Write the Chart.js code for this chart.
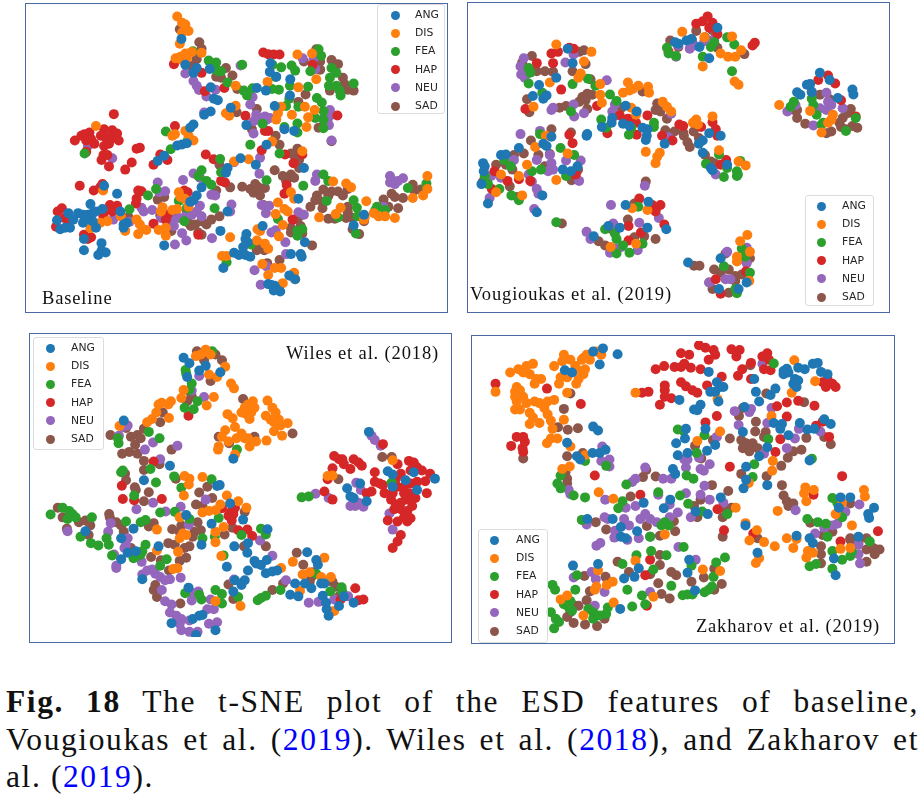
<!DOCTYPE html>
<html lang="en">
<head>
<meta charset="UTF-8">
<title>t-SNE plot of ESD features</title>
<script src="https://cdn.jsdelivr.net/npm/chart.js"></script>
<style>
    html, body { margin: 0; padding: 0; background: #fff; }
    body { width: 921px; height: 801px; position: relative; overflow: hidden; }
    .panel { position: absolute; box-sizing: border-box; border: 1px solid #4a6aa5; background: #fff; }
    .panel canvas { position: absolute; left: 0; top: 0; filter: blur(0.4px); }
    .legend { position: absolute; box-sizing: border-box; background: rgba(255,255,255,0.8); border: 1px solid #dcdcdc; border-radius: 3px; font: 10.8px "DejaVu Sans", sans-serif; color: #262626; }
    .legend div { position: absolute; left: 0; right: 0; height: 18px; line-height: 18px; }
    .legend i { position: absolute; top: 4.5px; width: 9px; height: 9px; border-radius: 50%; }
    .legend span { position: absolute; }
    .tag { position: absolute; font: 18.5px "Liberation Serif", serif; letter-spacing: 0.85px; color: #111; white-space: nowrap; }
    .caption { position: absolute; left: 6px; width: 913px; font: 31.5px "Liberation Serif", serif; color: #111; white-space: nowrap; letter-spacing: 1.6px; }
    .caption.full { text-align: justify; text-align-last: justify; white-space: normal; }
    .caption a { color: #0000ff; }
</style>
</head>
<body>
<div class="panel" id="p0" style="left:25px;top:3px;width:423px;height:310px"><canvas id="c0" width="421" height="308"></canvas>
    <div class="legend" id="l0" style="left:351px;top:0;width:68px;height:110px"></div>
    <div class="tag" style="left:16px;top:284px">Baseline</div></div>
<div class="panel" id="p1" style="left:467px;top:2px;width:423px;height:311px"><canvas id="c1" width="421" height="309"></canvas>
    <div class="legend" id="l1" style="left:337px;top:192px;width:69px;height:111px"></div>
    <div class="tag" style="left:2px;top:281px">Vougioukas et al. (2019)</div></div>
<div class="panel" id="p2" style="left:29px;top:333px;width:423px;height:310px"><canvas id="c2" width="421" height="308"></canvas>
    <div class="legend" id="l2" style="left:3px;top:3px;width:71px;height:113px"></div>
    <div class="tag" style="right:12px;top:9px">Wiles et al. (2018)</div></div>
<div class="panel" id="p3" style="left:471px;top:335px;width:424px;height:309px"><canvas id="c3" width="422" height="307"></canvas>
    <div class="legend" id="l3" style="left:6px;top:193px;width:70px;height:114px"></div>
    <div class="tag" style="right:14px;top:280px">Zakharov et al. (2019)</div></div>

<div class="caption full" style="top:684px"><b>Fig. 18</b> The t-SNE plot of the ESD features of baseline,</div>
<div class="caption full" style="top:722px">Vougioukas et al. (<a>2019</a>). Wiles et al. (<a>2018</a>), and Zakharov et</div>
<div class="caption" style="top:759px">al. (<a>2019</a>).</div>

<script>
const categories = ['ANG', 'DIS', 'FEA', 'HAP', 'NEU', 'SAD'];
const colors = ['#1f77b4', '#ff7f0e', '#2ca02c', '#d62728', '#9467bd', '#8c564b'];

// t-SNE embeddings have no real units, values are read off each panel (y grows downward)
const baselineANG = [[478,105],[490,185],[515,210],[525,195],[565,198],[568,255],[578,290],[590,295],[568,330],[548,340],[515,370],[505,380],[465,435],[480,432],[495,428],[752,180],[750,207],[770,222],[813,230],[812,280],[738,265],[710,257],[765,313],[678,372],[630,318],[795,385],[825,390],[740,433],[660,475],[707,495],[620,505],[615,520],[855,505],[240,560],[280,585],[198,617],[130,645],[160,645],[175,650],[190,650],[205,645],[215,640],[235,632],[195,665],[175,675],[205,670],[95,667],[105,695],[120,690],[135,690],[145,665],[215,690],[178,725],[232,738],[178,760],[232,762],[245,767],[222,775],[290,640],[300,690],[310,675],[425,745],[540,565],[525,590],[515,605],[505,610],[620,640],[598,700],[728,685],[678,710],[675,725],[682,735],[668,750],[640,768],[655,775],[675,775],[690,780],[607,815],[815,772],[845,772],[848,780],[858,735],[1040,650],[1008,683],[745,865],[755,868],[765,870],[770,880],[782,888],[762,885],[810,838],[828,850],[405,483],[425,467],[838,600],[300,680]];
const baselineDIS = [[465,35],[480,55],[490,60],[500,80],[480,85],[473,120],[460,165],[475,160],[490,150],[510,145],[480,170],[495,165],[540,148],[645,250],[743,238],[838,255],[835,153],[880,150],[893,230],[645,312],[615,335],[625,343],[785,315],[775,335],[770,355],[818,340],[858,315],[888,325],[868,348],[863,378],[215,375],[458,400],[450,405],[490,390],[500,405],[515,420],[757,423],[685,478],[640,485],[850,453],[237,575],[470,580],[475,595],[488,600],[500,625],[465,632],[450,635],[420,627],[415,640],[292,655],[228,675],[250,670],[198,692],[305,700],[340,665],[350,680],[360,695],[345,710],[370,697],[408,697],[430,715],[430,690],[628,720],[712,695],[720,700],[710,730],[735,740],[745,755],[778,717],[790,682],[775,612],[815,580],[825,600],[795,632],[768,648],[805,640],[945,547],[985,553],[1000,565],[968,628],[953,648],[902,658],[1047,608],[1042,658],[1070,645],[1085,655],[1105,655],[1135,660],[1190,598],[1222,590],[1235,530],[1235,570],[603,778],[617,778],[727,803],[745,837],[765,815],[785,815],[790,862],[825,830],[815,840],[828,850],[1040,665]];
const baselineFEA = [[513,143],[562,172],[585,178],[583,195],[590,205],[600,205],[665,185],[620,240],[670,265],[680,280],[697,258],[757,260],[778,262],[758,185],[785,193],[768,223],[817,187],[828,203],[812,250],[868,253],[810,290],[838,315],[800,313],[895,288],[910,302],[875,205],[900,137],[908,157],[940,195],[955,210],[935,225],[932,250],[955,250],[965,265],[968,280],[1008,243],[915,328],[890,350],[915,355],[915,382],[835,367],[795,378],[835,395],[728,368],[430,392],[498,418],[445,447],[180,460],[690,433],[780,460],[597,477],[600,518],[540,512],[530,530],[555,545],[570,557],[740,543],[853,560],[915,525],[930,545],[925,607],[1008,605],[1018,628],[1020,655],[960,658],[1080,625],[1075,635],[1105,635],[1175,567],[1232,553],[1232,565],[375,590],[400,570],[470,607],[495,628],[487,670],[318,633],[580,630],[775,663],[835,700],[850,695],[835,715],[1015,708],[692,742],[617,797]];
const baselineHAP = [[270,338],[150,420],[170,405],[180,400],[195,395],[210,430],[185,420],[200,415],[240,385],[265,388],[280,398],[230,405],[245,410],[260,415],[285,420],[240,437],[255,430],[185,455],[238,465],[250,465],[232,480],[255,500],[305,510],[325,488],[340,445],[350,442],[413,463],[392,495],[435,480],[458,375],[455,183],[540,210],[550,267],[610,257],[730,147],[745,152],[762,153],[780,153],[882,185],[958,342],[675,343],[735,390],[745,390],[553,463],[577,478],[600,545],[612,550],[725,450],[797,463],[850,463],[823,490],[802,558],[795,585],[165,560],[235,555],[228,565],[208,575],[345,575],[355,577],[340,600],[338,615],[487,575],[497,580],[487,593],[258,620],[280,622],[265,640],[238,642],[238,655],[110,630],[97,640],[118,660],[130,670],[92,687],[178,712],[200,720],[190,725],[435,650],[430,665],[392,678],[530,712],[820,665]];
const baselineNEU = [[660,187],[490,212],[515,235],[525,250],[532,263],[555,283],[583,262],[548,333],[697,285],[690,308],[708,340],[700,360],[720,358],[735,345],[750,350],[740,355],[700,398],[935,325],[940,340],[915,352],[930,350],[932,372],[851,165],[885,165],[890,198],[940,420],[190,437],[265,475],[720,473],[718,523],[640,487],[515,522],[535,535],[483,542],[405,550],[410,580],[428,577],[890,545],[895,525],[1120,530],[1130,545],[1135,555],[1160,537],[1145,545],[1120,550],[1100,625],[570,588],[582,590],[355,628],[362,640],[388,635],[415,660],[268,665],[318,672],[535,622],[525,640],[510,650],[490,655],[470,660],[450,665],[440,675],[455,685],[540,655],[480,707],[493,730],[458,742],[572,723],[632,618],[628,640],[725,620],[748,622],[738,645],[838,642],[855,650],[768,698],[755,705],[798,735],[800,772],[740,810],[703,822],[722,867]];
const baselineSAD = [[473,75],[533,115],[540,135],[525,168],[508,188],[615,195],[635,218],[600,225],[585,222],[650,260],[940,170],[960,183],[893,137],[855,175],[905,175],[905,200],[975,225],[980,245],[990,262],[1008,265],[935,265],[860,277],[838,300],[710,322],[648,332],[690,375],[695,385],[900,380],[940,422],[768,405],[780,433],[835,445],[815,460],[825,465],[840,480],[840,505],[595,495],[765,512],[790,530],[815,525],[825,535],[800,545],[628,565],[665,563],[690,570],[705,555],[715,565],[735,567],[700,582],[720,590],[585,575],[915,572],[940,578],[960,578],[990,570],[930,592],[895,590],[890,605],[875,625],[912,610],[912,630],[975,590],[405,603],[425,595],[413,652],[460,655],[495,640],[500,675],[520,680],[540,670],[555,680],[570,665],[595,655],[507,685],[447,700],[530,705],[540,712],[315,657],[730,620],[835,665],[815,690],[815,705],[845,685],[850,708],[850,650],[930,662],[950,662],[985,660],[990,625],[1005,660],[990,642],[1005,695],[1025,710],[1040,670],[1100,603],[1125,585],[1135,595],[1115,625],[1145,630],[1160,598],[1190,557],[1195,575],[1215,572],[880,745],[715,738],[710,760],[733,760],[742,800],[780,790]];

const vougANG = [[665,110],[680,105],[760,70],[735,165],[705,130],[640,120],[630,115],[1075,210],[1035,247],[1045,245],[1105,232],[1005,270],[1015,278],[1175,262],[1178,277],[1130,288],[1050,270],[300,135],[315,180],[265,225],[212,248],[193,282],[225,290],[235,280],[360,400],[358,405],[478,312],[512,330],[437,350],[435,365],[470,368],[405,378],[490,375],[530,380],[545,385],[543,405],[540,418],[598,430],[770,405],[735,397],[715,420],[703,430],[715,458],[250,408],[225,430],[235,437],[150,443],[95,465],[110,463],[40,490],[45,500],[42,515],[35,555],[55,615],[222,590],[205,642],[285,510],[310,515],[330,500],[548,610],[380,717],[425,685],[460,690],[545,690],[603,695],[670,798],[770,785],[765,880],[825,880],[850,860],[790,495],[740,505],[745,512],[478,620]];
const vougDIS = [[652,83],[715,190],[720,100],[805,97],[770,150],[793,160],[815,160],[833,140],[813,237],[825,247],[265,122],[373,145],[350,175],[340,212],[333,225],[245,240],[195,315],[485,240],[470,272],[490,265],[500,260],[517,250],[547,253],[550,272],[400,245],[400,278],[405,303],[495,318],[592,300],[605,315],[618,330],[510,340],[695,355],[685,365],[700,370],[745,345],[540,455],[583,458],[575,470],[570,490],[233,405],[200,440],[175,495],[150,530],[95,525],[80,580],[265,542],[300,460],[160,590],[498,630],[545,635],[510,740],[765,450],[825,485],[847,497],[950,310],[1045,328],[1080,395],[1115,340],[1110,355],[1100,365],[830,732],[852,713],[820,780],[820,795],[858,855],[860,765],[432,750]];
const vougFEA = [[605,132],[610,150],[633,158],[715,160],[740,130],[750,115],[790,100],[812,122],[805,205],[180,195],[180,243],[185,210],[315,245],[385,250],[362,228],[430,277],[222,272],[450,297],[310,330],[403,355],[418,380],[488,402],[495,380],[565,365],[565,378],[278,443],[215,400],[320,465],[218,510],[295,530],[190,515],[125,500],[105,480],[45,530],[55,555],[90,570],[127,590],[150,605],[725,492],[765,463],[780,533],[790,505],[820,515],[820,530],[823,525],[830,483],[265,673],[517,625],[415,695],[445,708],[450,725],[470,745],[490,768],[450,770],[530,740],[995,300],[985,315],[1050,290],[1055,310],[1065,340],[1085,365],[1080,370],[1155,390],[1185,350],[780,810],[835,755],[845,780],[820,893],[815,880],[860,830]];
const vougHAP = [[695,58],[715,50],[730,35],[745,55],[755,70],[760,90],[735,70],[610,145],[875,117],[868,125],[250,150],[270,145],[305,132],[318,135],[205,180],[255,180],[280,262],[390,313],[170,322],[460,342],[485,352],[510,365],[545,342],[422,397],[512,402],[643,370],[655,375],[622,420],[590,405],[710,378],[745,363],[755,385],[760,405],[315,428],[305,402],[40,547],[67,570],[75,515],[115,545],[150,540],[185,545],[325,525],[520,600],[560,620],[572,630],[585,620],[570,640],[487,685],[525,705],[597,680],[487,730],[770,495],[787,480],[755,850],[770,895],[848,825],[1070,232],[1100,218],[1122,243],[1140,295],[1185,345]];
const vougNEU = [[165,165],[155,190],[157,215],[168,225],[250,325],[255,318],[293,178],[318,153],[420,233],[320,345],[350,335],[318,308],[445,308],[437,330],[618,337],[155,400],[215,390],[125,490],[135,480],[180,525],[205,480],[245,465],[250,490],[255,510],[240,515],[295,482],[340,482],[335,545],[65,530],[95,535],[190,548],[205,570],[210,585],[60,598],[197,632],[433,620],[537,560],[633,160],[640,125],[675,135],[690,125],[720,112],[750,105],[358,703],[370,725],[430,768],[445,755],[465,750],[515,760],[580,660],[520,675],[440,677],[610,410],[755,525],[1050,268],[1095,272],[1100,300],[1110,310],[1095,325],[1075,320],[975,330],[1000,310],[1055,373],[1145,320],[790,765],[825,790],[850,752],[850,800],[785,850],[800,850],[735,860]];
const vougSAD = [[190,158],[160,178],[355,183],[175,205],[190,205],[205,205],[230,205],[255,207],[315,205],[335,145],[350,140],[370,230],[175,292],[182,332],[375,278],[360,275],[345,285],[335,300],[355,295],[360,322],[275,318],[295,313],[530,268],[465,318],[575,305],[570,325],[585,330],[605,352],[600,388],[628,392],[655,395],[657,405],[668,425],[675,440],[687,392],[703,412],[722,465],[740,485],[750,490],[250,385],[310,395],[187,420],[210,465],[135,465],[165,460],[245,462],[110,495],[80,495],[130,510],[230,500],[332,510],[312,543],[122,562],[145,595],[540,547],[282,677],[485,665],[505,615],[435,695],[395,732],[415,745],[430,752],[505,720],[535,717],[570,725],[615,110],[640,130],[695,80],[722,100],[745,78],[682,108],[760,132],[843,152],[995,325],[1005,325],[1005,350],[1030,368],[1075,278],[1105,292],[1060,318],[1145,350],[1135,365],[1160,335],[1170,322],[1140,378],[1155,385],[1175,375],[1190,380],[1095,397],[1110,392],[688,808],[705,808],[750,820],[770,830],[785,770],[795,820],[860,785],[815,840],[835,835],[815,855],[735,860],[745,880],[795,892]];

const wilesANG = [[472,70],[490,87],[483,130],[520,110],[540,95],[585,115],[288,265],[430,405],[350,450],[575,468],[583,465],[625,383],[318,600],[170,608],[280,630],[395,655],[300,675],[280,695],[325,670],[480,558],[558,585],[655,572],[615,522],[527,650],[628,655],[668,675],[670,645],[730,602],[605,718],[690,700],[695,708],[710,713],[725,738],[670,730],[745,733],[760,730],[728,697],[660,760],[650,775],[630,760],[625,795],[852,673],[880,697],[885,712],[815,770],[845,770],[865,785],[895,770],[905,770],[800,805],[825,810],[900,808],[910,830],[912,850],[918,870],[950,840],[965,810],[995,830],[345,757],[487,783],[520,870],[530,868],[500,880],[570,915],[435,893],[510,930],[1042,300],[1100,422],[975,475],[985,500],[995,505],[1015,460],[1035,515],[1115,470],[1155,450],[1180,425],[1190,480],[1245,445],[1115,432]];
const wilesDIS = [[510,65],[525,60],[540,45],[555,60],[600,98],[550,122],[575,130],[618,150],[627,165],[465,195],[472,170],[565,192],[543,218],[405,210],[395,215],[433,205],[425,215],[388,240],[375,260],[360,270],[427,257],[275,282],[607,245],[623,258],[630,285],[600,295],[590,315],[580,345],[578,355],[610,330],[635,320],[650,305],[660,320],[670,320],[650,240],[660,225],[670,215],[685,205],[665,245],[680,240],[690,225],[675,260],[730,203],[745,225],[755,240],[725,250],[740,262],[750,270],[765,262],[770,280],[792,273],[750,298],[775,312],[727,327],[695,330],[675,345],[630,370],[475,437],[490,445],[488,463],[530,440],[473,497],[605,497],[585,525],[640,515],[665,535],[530,550],[550,545],[570,543],[595,595],[390,603],[460,565],[570,610],[470,615],[460,630],[480,620],[570,642],[455,672],[588,685],[390,668],[453,723],[440,725],[772,722],[808,703],[905,690],[838,742],[860,735],[895,750],[925,750],[830,793],[935,855],[647,840],[930,435],[915,437],[1115,388],[570,825]];
const wilesFEA = [[560,50],[478,108],[480,120],[497,150],[490,170],[475,225],[503,230],[515,205],[270,320],[272,335],[365,300],[398,320],[285,420],[370,415],[443,438],[558,447],[387,457],[465,473],[320,497],[280,425],[100,535],[120,545],[130,555],[115,570],[140,565],[63,556],[190,565],[155,625],[235,630],[187,645],[210,652],[242,650],[252,683],[400,550],[445,548],[490,570],[295,578],[340,580],[355,573],[580,567],[568,625],[530,630],[650,620],[710,600],[725,618],[636,355],[355,650],[345,670],[330,685],[318,692],[340,680],[400,715],[420,695],[595,683],[477,800],[527,820],[570,790],[590,803],[590,832],[520,805],[640,812],[700,822],[710,815],[725,808],[770,790],[923,795],[958,782],[960,795],[835,503],[857,500],[880,740],[1112,457]];
const wilesHAP = [[487,250],[380,392],[282,467],[285,508],[320,512],[405,508],[590,537],[615,550],[630,535],[625,555],[610,560],[620,575],[668,603],[683,623],[640,605],[935,375],[950,385],[960,385],[965,400],[995,385],[1010,395],[1020,405],[985,415],[930,413],[1085,338],[1130,400],[1165,390],[1180,395],[1190,410],[1205,420],[1170,420],[1140,430],[1125,445],[1060,425],[1060,455],[1075,460],[1085,465],[1050,485],[1035,490],[1090,490],[1115,490],[1130,470],[1150,470],[1170,460],[1190,455],[1215,453],[1230,430],[1110,510],[1125,525],[1140,520],[1155,510],[1170,510],[1185,505],[1220,490],[1120,540],[1140,540],[1160,545],[1175,530],[1150,565],[1170,568],[1100,575],[1130,578],[1160,578],[1140,620],[1130,640],[1115,660],[905,485],[930,510],[915,447],[1150,490],[1165,490],[1000,785],[1010,822],[1025,820],[955,820]];
const wilesNEU = [[285,285],[300,280],[273,312],[520,127],[535,192],[497,172],[378,333],[453,343],[353,355],[400,385],[378,520],[327,540],[417,547],[463,532],[540,510],[488,588],[248,583],[240,610],[300,630],[295,650],[290,660],[258,680],[265,715],[265,722],[343,703],[345,742],[360,730],[375,727],[385,740],[400,750],[415,760],[430,757],[463,752],[405,790],[415,825],[435,835],[430,860],[450,870],[465,880],[490,885],[460,895],[465,915],[490,920],[515,920],[550,895],[575,890],[545,850],[565,850],[555,820],[497,798],[517,795],[497,823],[707,637],[745,684],[627,758],[857,830],[887,827],[935,820],[978,810],[787,760],[115,608],[1050,312],[1060,325],[1078,343],[1003,458],[1017,480],[985,530],[1000,530],[1010,520],[1025,532],[878,492],[918,505],[1105,553],[1115,603]];
const wilesSAD = [[513,50],[570,60],[590,78],[535,78],[555,142],[490,175],[497,190],[483,205],[408,240],[400,270],[655,198],[247,310],[295,288],[310,315],[330,310],[350,290],[340,320],[323,340],[305,362],[283,368],[330,368],[350,390],[398,400],[350,418],[435,355],[292,430],[295,450],[322,472],[325,480],[365,487],[350,515],[448,445],[520,488],[545,470],[560,505],[510,525],[530,530],[690,315],[580,315],[612,335],[807,305],[660,548],[85,535],[100,565],[113,600],[150,580],[170,575],[185,590],[180,620],[243,555],[245,565],[265,580],[280,590],[288,610],[365,593],[380,583],[437,602],[465,590],[460,610],[505,610],[515,580],[500,625],[525,605],[425,645],[445,650],[475,660],[490,655],[310,660],[372,688],[402,698],[460,700],[480,690],[427,730],[598,618],[622,597],[658,655],[725,655],[725,608],[820,675],[840,712],[870,735],[865,750],[860,765],[778,770],[745,790],[625,818],[610,773],[930,765],[940,780],[950,810],[385,775],[380,790],[390,812],[462,832],[463,885],[1083,378],[1112,378],[948,447]];

const zakhANG = [[370,50],[400,40],[445,58],[390,90],[283,108],[305,115],[370,283],[385,295],[290,333],[320,375],[330,385],[368,365],[390,365],[408,355],[965,103],[955,110],[970,115],[955,120],[1000,100],[1020,105],[1045,88],[1060,85],[1070,113],[1090,120],[990,135],[985,150],[1000,140],[995,160],[725,113],[750,145],[760,160],[770,160],[745,175],[730,175],[865,135],[870,175],[880,205],[915,185],[930,165],[635,200],[700,215],[680,230],[690,232],[755,205],[835,222],[925,272],[950,275],[945,290],[1005,272],[1028,292],[1050,290],[1080,260],[1100,275],[830,300],[970,310],[655,290],[652,320],[625,335],[715,290],[720,358],[745,340],[905,347],[630,372],[660,365],[880,375],[1035,388],[615,415],[622,430],[840,408],[840,448],[832,475],[905,465],[455,595],[430,570],[352,570],[525,520],[505,608],[455,625],[470,630],[587,537],[607,510],[685,547],[722,555],[762,503],[838,590],[875,675],[665,697],[660,737],[510,723],[465,755],[385,710],[308,715],[497,750],[683,792],[453,850],[1130,503],[1160,503],[1233,535],[1215,555],[1218,567],[995,622],[1035,630],[1045,645],[1185,625],[1110,693],[1115,745],[1125,535]];
const zakhDIS = [[395,60],[380,50],[350,60],[340,70],[360,75],[335,75],[280,60],[275,80],[300,75],[315,95],[320,105],[250,95],[115,115],[140,105],[165,95],[185,88],[155,115],[175,120],[195,135],[210,135],[190,150],[270,130],[290,130],[265,150],[325,135],[318,150],[345,105],[340,120],[70,175],[135,160],[130,175],[145,170],[130,190],[155,190],[135,205],[165,210],[190,205],[205,210],[230,205],[250,200],[220,225],[130,230],[145,230],[175,240],[185,255],[175,275],[205,272],[230,245],[240,265],[280,262],[245,290],[240,320],[260,320],[228,335],[290,178],[300,345],[500,178],[275,415],[298,407],[387,487],[432,507],[345,372],[690,328],[760,298],[752,197],[918,250],[922,390],[920,420],[848,458],[980,178],[988,77],[1052,142],[1022,472],[1018,490],[1025,515],[1048,480],[1202,480],[1205,500],[937,545],[808,535],[838,583],[873,605],[850,637],[895,642],[928,655],[965,630],[995,632],[985,660],[880,692],[870,707],[1025,690],[1030,670],[1045,675],[1130,663],[1160,660],[1165,590],[1115,555],[1135,520],[707,727],[760,732],[590,618],[500,700],[412,775],[430,765],[385,730],[380,780],[375,790],[270,820],[290,808],[433,830],[340,870],[555,812]];
const zakhFEA = [[630,292],[648,297],[712,310],[688,365],[925,87],[1042,383],[865,400],[860,440],[657,435],[678,445],[908,322],[472,463],[345,390],[410,405],[270,435],[260,460],[270,475],[310,497],[345,503],[447,537],[460,515],[637,497],[662,523],[705,547],[570,487],[782,555],[335,573],[580,590],[590,580],[602,590],[545,625],[648,657],[548,670],[503,683],[595,683],[775,690],[748,705],[672,715],[460,710],[555,727],[740,750],[735,780],[610,778],[475,790],[320,745],[315,790],[245,775],[253,790],[300,825],[280,835],[295,845],[305,855],[240,860],[255,880],[265,890],[250,910],[355,850],[370,860],[370,880],[390,870],[415,845],[410,865],[490,842],[520,808],[530,835],[645,807],[660,805],[675,805],[712,798],[725,790],[1105,505],[1120,520],[1135,565],[1028,570],[1060,580],[1085,585],[1090,625],[1105,670],[1135,697],[1160,685],[1165,672],[1035,717],[1055,710],[1105,725],[1220,640]];
const zakhHAP = [[70,150],[228,165],[332,213],[135,315],[155,315],[160,330],[118,343],[153,350],[155,362],[562,105],[588,95],[620,98],[640,98],[650,88],[670,100],[640,55],[665,60],[695,30],[715,38],[700,105],[725,75],[740,45],[745,60],[795,43],[820,45],[810,65],[855,85],[828,105],[815,125],[855,135],[890,65],[905,55],[910,75],[895,105],[915,108],[520,178],[540,175],[590,155],[590,170],[590,190],[610,195],[640,145],[655,158],[675,170],[690,178],[575,215],[720,155],[765,128],[750,250],[715,270],[1075,145],[1090,135],[1105,150],[1115,160],[1085,160],[1050,218],[1000,203],[965,208],[935,220],[965,252],[1055,280],[1075,268],[1095,315],[945,322],[930,362],[790,408],[375,435],[515,495],[752,540],[772,605],[862,615],[1135,437],[1047,495],[1130,640],[1245,608],[545,697],[530,745],[535,840]];
const zakhNEU = [[890,88],[918,225],[805,235],[855,228],[850,238],[817,278],[905,272],[1002,290],[1068,298],[990,320],[965,350],[895,367],[750,315],[398,345],[395,390],[420,385],[420,407],[650,385],[660,385],[655,410],[695,380],[700,415],[710,420],[728,400],[500,445],[490,455],[530,410],[585,445],[610,445],[295,480],[300,493],[407,510],[470,535],[500,530],[605,525],[630,550],[570,495],[655,490],[712,467],[700,495],[728,510],[770,520],[405,565],[415,570],[350,587],[465,570],[480,590],[515,570],[530,555],[545,570],[605,565],[670,565],[565,580],[437,607],[435,628],[475,635],[510,630],[545,625],[380,653],[392,645],[632,657],[685,697],[310,752],[365,735],[378,757],[405,797],[375,840],[545,797],[1080,597],[1105,590],[1120,585],[1052,615],[992,543],[1188,525],[1145,548],[1185,650],[1190,708],[1185,680]];
const zakhSAD = [[300,180],[280,228],[262,285],[292,293],[323,288],[155,382],[338,365],[290,375],[285,425],[290,445],[290,460],[533,418],[523,440],[562,438],[853,92],[902,180],[1018,207],[830,225],[818,250],[870,268],[868,298],[900,300],[895,315],[790,320],[825,325],[840,335],[860,335],[830,350],[850,360],[875,350],[738,325],[683,343],[702,382],[825,430],[903,437],[948,405],[968,380],[985,360],[1010,355],[1025,318],[1080,315],[1100,338],[950,465],[955,497],[965,515],[985,522],[970,530],[735,465],[785,483],[485,500],[700,510],[680,530],[770,535],[795,535],[690,565],[768,565],[378,580],[410,603],[535,592],[575,622],[622,608],[618,577],[768,625],[875,630],[1037,582],[1075,620],[1105,610],[1070,655],[1070,680],[1070,708],[1160,522],[1160,630],[1210,630],[1185,645],[1160,635],[1210,665],[1230,660],[1250,665],[1235,680],[1210,703],[445,703],[575,682],[575,713],[545,742],[610,735],[625,745],[570,770],[480,735],[408,750],[343,747],[360,795],[350,823],[310,838],[325,840],[300,860],[290,875],[310,893],[345,898],[382,903],[405,880],[580,803],[605,817],[742,725],[710,752],[765,772],[742,790],[672,765]];

const panelSeries = [
    [baselineANG, baselineDIS, baselineFEA, baselineHAP, baselineNEU, baselineSAD],
    [vougANG, vougDIS, vougFEA, vougHAP, vougNEU, vougSAD],
    [wilesANG, wilesDIS, wilesFEA, wilesHAP, wilesNEU, wilesSAD],
    [zakhANG, zakhDIS, zakhFEA, zakhHAP, zakhNEU, zakhSAD]
];
// axis limits of each panel: xmin, xmax, ymin, ymax
const panelLimits = [
    [15, 1280, 12, 936],
    [9, 1272, 9, 936],
    [15, 1279, 12, 936],
    [13, 1279, 17, 940]
];
const legendMarkerX = [[13, 37], [11, 36], [12, 37], [11, 37]];

panelSeries.forEach((series, p) => {
    const lim = panelLimits[p];
    new Chart(document.getElementById('c' + p), {
        type: 'scatter',
        data: {
            datasets: series.map((pts, i) => ({
                label: categories[i],
                data: pts,
                backgroundColor: colors[i],
                borderWidth: 0,
                pointRadius: 5
            }))
        },
        options: {
            responsive: false,
            animation: false,
            events: [],
            layout: { padding: 0 },
            plugins: { legend: { display: false }, tooltip: { enabled: false } },
            scales: {
                x: { display: false, min: lim[0], max: lim[1] },
                y: { display: false, min: lim[2], max: lim[3], reverse: true }
            }
        }
    });

    // legend sits on top of the points, like matplotlib's framealpha box
    const box = document.getElementById('l' + p);
    categories.forEach((name, i) => {
        const row = document.createElement('div');
        row.style.top = (1 + i * 18.2) + 'px';
        row.innerHTML = `<i style="left:${legendMarkerX[p][0]}px;background:${colors[i]}"></i><span style="left:${legendMarkerX[p][1]}px">${name}</span>`;
        box.appendChild(row);
    });
});
</script>
</body>
</html>
